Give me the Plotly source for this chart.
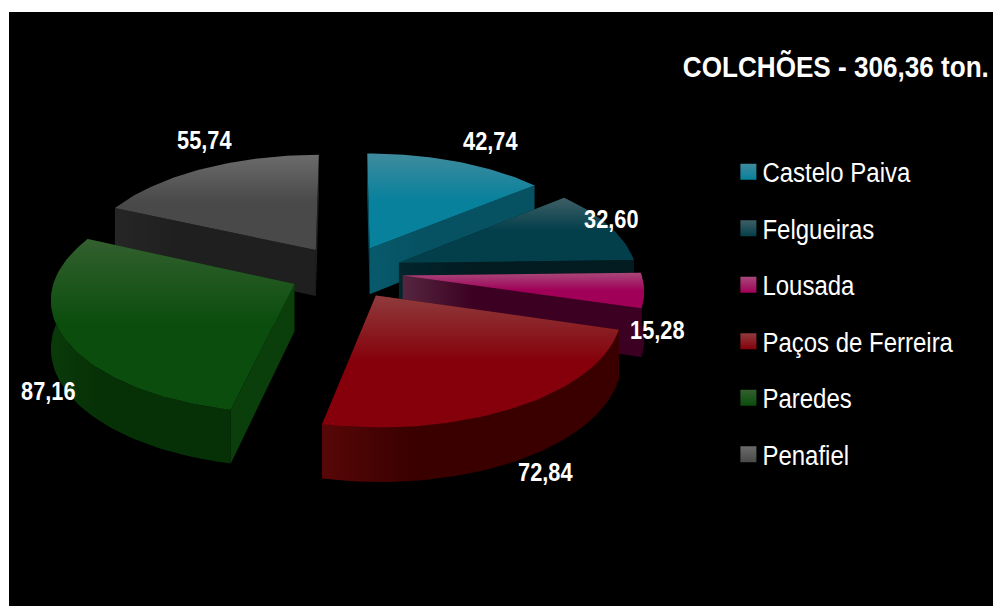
import math
import plotly.graph_objects as go

categories = ["Castelo Paiva", "Felgueiras", "Lousada", "Paços de Ferreira", "Paredes", "Penafiel"]
values = [42.74, 32.60, 15.28, 72.84, 87.16, 55.74]
title_prefix = "COLCHÕES - "
title_suffix = " ton."

top_light = ["#3f8b9d", "#3f5f66", "#a8487a", "#8f3b3d", "#33602f", "#6b6b6b"]
top_base = ["#07819c", "#033f4b", "#a00058", "#85000a", "#0a4d0c", "#494949"]
cut_wall_left = ["#075a6c", "#03252c", "#55263f", "#4e0404", "#0a3e0a", "#262626"]
cut_wall_right = ["#065263", "#021c22", "#3c0022", "#4e0404", "#0a3e0a", "#1f1f1f"]
outer_wall_left = ["#065263", "#021c22", "#3c0022", "#580707", "#0a3a0a", "#212121"]
outer_wall_right = ["#065263", "#021c22", "#3c0022", "#3a0000", "#063006", "#212121"]
label_pos = [(490, 141), (611, 219), (657, 330), (545, 472), (48, 391), (204, 140)]
draw_order = [5, 0, 1, 2, 4, 3]

CX, CY, A, B, K, EXPL, H = 346, 272, 238, 111, 0.115, 0.24, 47
FONT = "Liberation Sans, Arial, sans-serif"

total = sum(values)
angles = [0]
for v in values:
    angles.append(angles[-1] + v / total * 2 * math.pi)


def project(r, t, mid, down=0.0):
    u = r * math.sin(t) + EXPL * math.sin(mid)
    v = -r * math.cos(t) - EXPL * math.cos(mid)
    s = 1 / (1 - K * v)
    return CX + A * u * s, CY + B * v * s + down * s


def arc(t0, t1, mid, down=0.0):
    n = max(6, int((t1 - t0) * 40))
    return [project(1, t0 + (t1 - t0) * j / n, mid, down) for j in range(n + 1)]


def poly(points, name, grad):
    xs = [p[0] for p in points] + [points[0][0]]
    ys = [p[1] for p in points] + [points[0][1]]
    return go.Scatter(x=xs, y=ys, mode="lines", line=dict(width=0), fill="toself",
                      showlegend=False, hoverinfo="skip", name=name, fillgradient=grad)


def hgrad(left, right):
    return dict(type="horizontal", colorscale=[[0, left], [0.3, right], [1, right]])


fig = go.Figure()
for i in draw_order:
    t0, t1 = angles[i], angles[i + 1]
    mid = (t0 + t1) / 2
    name = categories[i]
    apex = project(0, 0, mid)
    apex_d = project(0, 0, mid, H)
    for t in (t0, t1):
        rim, rim_d = project(1, t, mid), project(1, t, mid, H)
        fig.add_trace(poly([apex, rim, rim_d, apex_d], name, hgrad(cut_wall_left[i], cut_wall_right[i])))
    # only the part of the rim that faces the viewer has an outer wall
    w0, w1 = max(t0, math.pi / 2 - 0.1), min(t1, 3 * math.pi / 2 + 0.1)
    if w1 > w0:
        top_w, bot_w = arc(w0, w1, mid), arc(w0, w1, mid, H)
        fig.add_trace(poly(top_w + bot_w[::-1], name, hgrad(outer_wall_left[i], outer_wall_right[i])))
    grad = dict(type="vertical",
                colorscale=[[0, top_base[i]], [0.5, top_base[i]], [1, top_light[i]]])
    fig.add_trace(poly([apex] + arc(t0, t1, mid), name, grad))

for name, light, base in zip(categories, top_light, top_base):
    fig.add_trace(go.Scatter(x=[None], y=[None], mode="markers", name=name, legendgroup=name,
                             marker=dict(symbol="square", size=16, color=light,
                                         gradient=dict(type="vertical", color=base))))

for v, (x, y) in zip(values, label_pos):
    fig.add_annotation(x=x, y=y, text=f"{v:.2f}".replace(".", ","), showarrow=False,
                       font=dict(family=FONT, size=25, color="white", weight="bold"))

fig.add_annotation(x=836, y=66, showarrow=False,
                   text=f"{title_prefix}{total:.2f}".replace(".", ",") + title_suffix,
                   font=dict(family=FONT, size=30, color="white", weight="bold"))

fig.update_layout(
    width=993, height=606, autosize=False,
    margin=dict(l=9, r=0, t=12, b=0),
    paper_bgcolor="white", plot_bgcolor="black",
    xaxis=dict(range=[9, 993], visible=False, fixedrange=True),
    yaxis=dict(range=[606, 12], visible=False, fixedrange=True),
    legend=dict(x=0.725, y=0.7715, xanchor="left", yanchor="top", bgcolor="rgba(0,0,0,0)",
                font=dict(family=FONT, size=27, color="white"), tracegroupgap=18.4,
                traceorder="grouped"),
)
# The reference uses a narrow face: condense the real text horizontally.
post = """
document.body.style.margin='0';document.body.style.overflow='hidden';
function narrow(){
  document.querySelectorAll('.annotation-text').forEach(function(t){
    t.setAttribute('textLength', t.getComputedTextLength()*0.87);
    t.setAttribute('lengthAdjust','spacingAndGlyphs');
  });
  document.querySelectorAll('.legendtext').forEach(function(t){
    t.setAttribute('textLength', t.getComputedTextLength()*0.888);
    t.setAttribute('lengthAdjust','spacingAndGlyphs');
  });
  document.querySelectorAll('.legendsymbols').forEach(function(g){
    g.setAttribute('transform','translate(6,0)');
  });
}
narrow();
"""
fig.write_html("out.html", post_script=post, config={"displayModeBar": False})
